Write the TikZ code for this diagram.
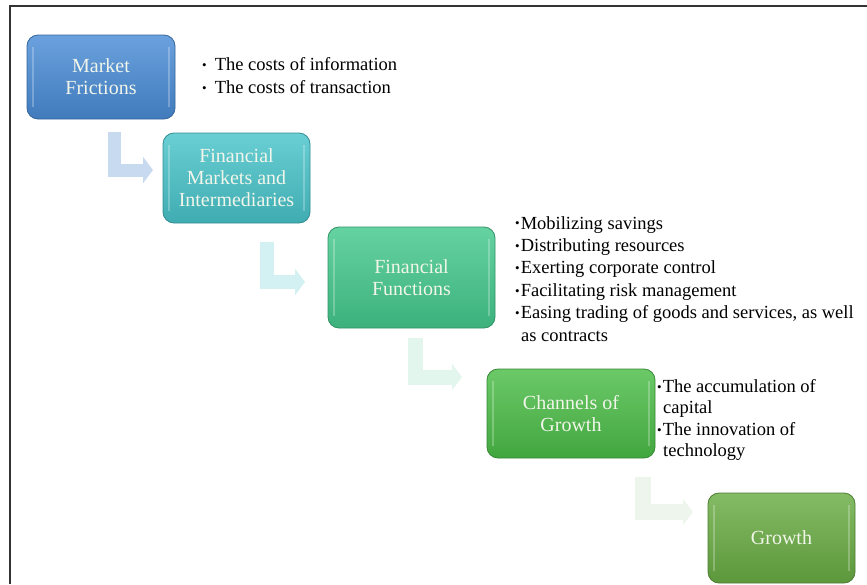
\documentclass[tikz,border=0pt]{standalone}
\usepackage{fontspec}
\setmainfont{Liberation Serif}
\usetikzlibrary{arrows.meta}
\definecolor{mfblue}{HTML}{4A8CD6}
\definecolor{fmteal}{HTML}{48C4CA}
\definecolor{ffgreen}{HTML}{44C98D}
\definecolor{cggreen}{HTML}{4BBD47}
\definecolor{grolive}{HTML}{69AC43}
\definecolor{flowblue}{HTML}{C8DAF0}
\definecolor{flowteal}{HTML}{D3F0F2}
\definecolor{flowmint}{HTML}{E3F6EE}
\definecolor{flowsage}{HTML}{EEF5EC}
\definecolor{boxtext}{HTML}{F1F5EA}
\definecolor{framegray}{HTML}{333333}
\newcommand{\bul}{\raisebox{1.2pt}{\fontsize{13}{13}\selectfont\textbullet}}
\tikzset{
  stage/.style={rectangle,rounded corners=11pt,top color=#1!82!white,bottom color=#1!88!black,draw=#1!72!black,line width=.8pt,
    align=center,text=boxtext,font=\fontsize{20}{22}\selectfont,
    path picture={
      \draw[white,opacity=.25,line width=2.5pt]
        ([xshift=6pt,yshift=-12pt]path picture bounding box.north west) -- ([xshift=6pt,yshift=12pt]path picture bounding box.south west)
        ([xshift=-6pt,yshift=-12pt]path picture bounding box.north east) -- ([xshift=-6pt,yshift=12pt]path picture bounding box.south east);
    }},
  flow/.style={draw=#1,line width=14pt,line join=miter,-{Triangle[length=10pt,width=26pt]}},
  items/.style={inner sep=0pt,align=left,anchor=north west,text=black,font=\fontsize{18.5}{#1}\selectfont},
  frame/.style={draw=framegray,line width=1.6pt},
}
\begin{document}
\begin{tikzpicture}[x=1pt,y=-1pt]
  \useasboundingbox (0,0) rectangle (867,584);
  \draw[frame] (10,584) -- (10,6) -- (867,6);
  % stages, top left to bottom right
  \node[stage=mfblue,minimum width=148pt,minimum height=84pt] (mf) at (101,77) {Market\\Frictions};
  \node[stage=fmteal,minimum width=147pt,minimum height=90pt] (fm) at (236.5,178) {Financial\\Markets and\\Intermediaries};
  \node[stage=ffgreen,minimum width=167pt,minimum height=101pt] (ff) at (411.5,277.5) {Financial\\Functions};
  \node[stage=cggreen,minimum width=168pt,minimum height=89pt] (cg) at (571,413.5) {Channels of\\Growth};
  \node[stage=grolive,minimum width=147pt,minimum height=90pt] (gr) at (781.5,538) {Growth};
  % bent arrows
  \coordinate (a1s) at (114,132);
  \coordinate (a1e) at (153,170);
  \coordinate (a2s) at (267,242);
  \coordinate (a2e) at (305,282);
  \coordinate (a3s) at (415,338);
  \coordinate (a3e) at (462,377);
  \coordinate (a4s) at (643,477);
  \coordinate (a4e) at (693,512);
  \draw[flow=flowblue,line width=13pt] (a1s) |- (a1e);
  \draw[flow=flowteal] (a2s) |- (a2e);
  \draw[flow=flowmint,line width=15pt] (a3s) |- (a3e);
  \draw[flow=flowsage,line width=16pt] (a4s) |- (a4e);
  % bullet lists
  \node[items=23] (costs) at (202,57) {\bul\hspace{8pt}The costs of information\\\bul\hspace{8pt}The costs of transaction};
  \node[items=22.4] (funcs) at (515,216) {\bul\hspace{1pt}Mobilizing savings\\\bul\hspace{1pt}Distributing resources\\\bul\hspace{1pt}Exerting corporate control\\\bul\hspace{1pt}Facilitating risk management\\\bul\hspace{1pt}Easing trading of goods and services, as well\\\hspace{6pt}as contracts};
  \node[items=21.5] (chans) at (657,379) {\bul\hspace{1pt}The accumulation of\\\hspace{6pt}capital\\\bul\hspace{1pt}The innovation of\\\hspace{6pt}technology};
\end{tikzpicture}
\end{document}
